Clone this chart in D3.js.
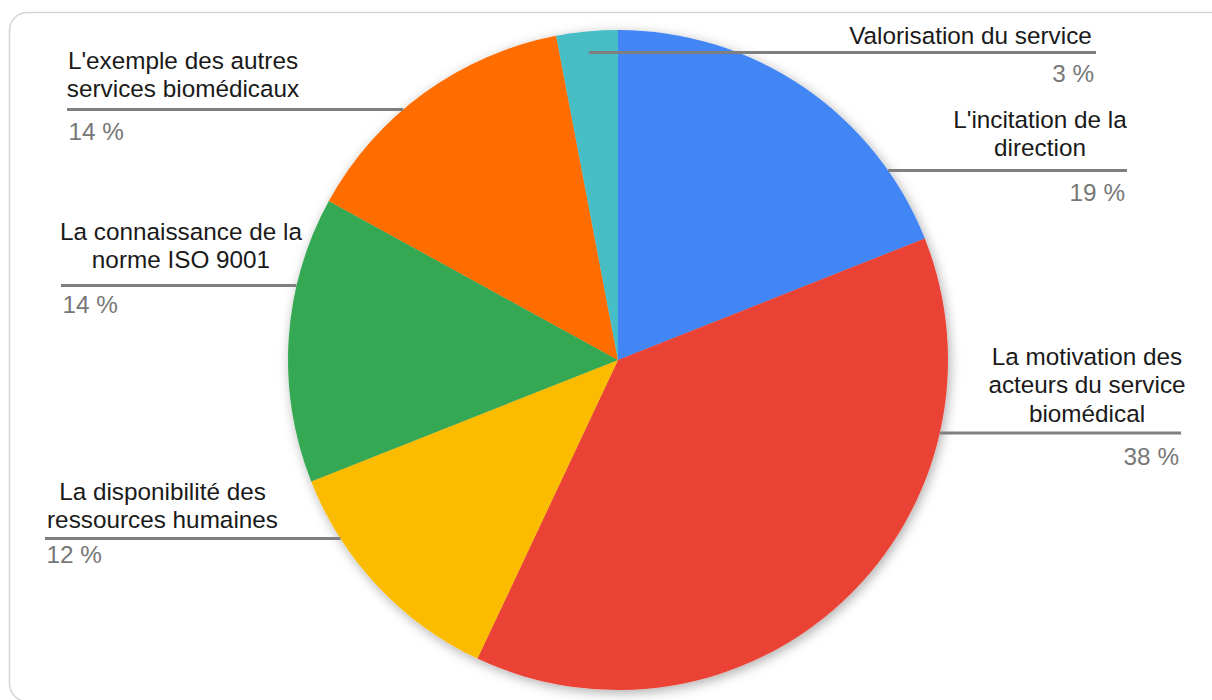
<!DOCTYPE html>
<html>
<head>
<meta charset="utf-8">
<script src="https://cdn.jsdelivr.net/npm/d3@7"></script>
<style>
  html, body { margin: 0; padding: 0; background: #fff; }
  svg { display: block; }
</style>
</head>
<body>
<svg id="chart" width="1212" height="700"></svg>
<script>
// Slice categories, in clockwise order from 12 o'clock
const categories = [
  "L'incitation de la direction",
  "La motivation des acteurs du service biomédical",
  "La disponibilité des ressources humaines",
  "La connaissance de la norme ISO 9001",
  "L'exemple des autres services biomédicaux",
  "Valorisation du service"
];
// Wrapped label lines for each category
const labelLines = [
  ["L'incitation de la", "direction"],
  ["La motivation des", "acteurs du service", "biomédical"],
  ["La disponibilité des", "ressources humaines"],
  ["La connaissance de la", "norme ISO 9001"],
  ["L'exemple des autres", "services biomédicaux"],
  ["Valorisation du service"]
];
// Share of answers, in percent
const shares = [19, 38, 12, 14, 14, 3];
const colors = ["#4285F4", "#EA4335", "#FBBC04", "#34A853", "#FF6D01", "#46BDC6"];

// Label placement: side (+1 right, -1 left), text block centre, first baseline,
// leader line height and its outer end, percentage baseline
const labelLayout = [
  { side:  1, textCx: 1040,  firstY: 128,  lineY: 170.5, lineEnd: 1127, pctY: 201 },
  { side:  1, textCx: 1087,  firstY: 365,  lineY: 433,   lineEnd: 1181, pctY: 465 },
  { side: -1, textCx: 162.5, firstY: 500,  lineY: 538.5, lineEnd: 45,   pctY: 563 },
  { side: -1, textCx: 181,   firstY: 240,  lineY: 285.5, lineEnd: 61,   pctY: 313 },
  { side: -1, textCx: 183,   firstY: 68.5, lineY: 109.5, lineEnd: 67,   pctY: 140 },
  { side:  1, textCx: 970.5, firstY: 43.5, lineY: 52.5,  lineEnd: 1096, pctY: 81.5 }
];

const W = 1212, H = 700;
const cx = 618, cy = 360, R = 330;
const fontFamily = "'Liberation Sans', Arial, Helvetica, sans-serif";
const fontSize = 24.3;
const lineHeight = 28.4;

const svg = d3.select("#chart");

// Card frame
svg.append("rect")
  .attr("x", 9.5).attr("y", 12.5)
  .attr("width", 1260).attr("height", 689)
  .attr("rx", 18).attr("ry", 18)
  .attr("fill", "#fff")
  .attr("stroke", "#d4d4d4")
  .attr("stroke-width", 1.5);

// Soft shadow under the pie
const defs = svg.append("defs");
const f = defs.append("filter").attr("id", "pieShadow")
  .attr("x", "-10%").attr("y", "-10%").attr("width", "120%").attr("height", "120%");
f.append("feDropShadow")
  .attr("dx", 2).attr("dy", 3)
  .attr("stdDeviation", 6)
  .attr("flood-color", "#000")
  .attr("flood-opacity", 0.32);

const pie = d3.pie().sort(null).value(d => d)(shares);
const arc = d3.arc().innerRadius(0).outerRadius(R);
const color = d3.scaleOrdinal().domain(d3.range(shares.length)).range(colors);

const g = svg.append("g").attr("transform", `translate(${cx},${cy})`);
g.append("g").attr("filter", "url(#pieShadow)")
  .selectAll("path")
  .data(pie)
  .join("path")
  .attr("d", arc)
  .attr("fill", (d, i) => color(i));

// Leader line start: circle edge at the line height if it falls in the slice,
// otherwise the point on the slice's middle ray at that height
function lineStart(d, L) {
  const dy = L.lineY - cy;
  const ex = L.side * Math.sqrt(Math.max(0, R * R - dy * dy));
  let a = Math.atan2(ex, -dy);
  if (a < 0) a += 2 * Math.PI;
  if (a >= d.startAngle && a <= d.endAngle) return cx + ex;
  const mid = (d.startAngle + d.endAngle) / 2;
  const r = -dy / Math.cos(mid);
  return cx + r * Math.sin(mid);
}

const pct = d3.format(".0f");
const labels = svg.append("g");

pie.forEach((d, i) => {
  const L = labelLayout[i];
  const x0 = lineStart(d, L);
  labels.append("line")
    .attr("x1", x0).attr("x2", L.lineEnd)
    .attr("y1", L.lineY).attr("y2", L.lineY)
    .attr("stroke", "#7f7f7f")
    .attr("stroke-width", 3);

  const t = labels.append("text")
    .attr("font-family", fontFamily)
    .attr("font-size", fontSize)
    .attr("fill", "#1a1a1a")
    .attr("text-anchor", "middle");
  labelLines[i].forEach((ln, k) => {
    t.append("tspan")
      .attr("x", L.textCx)
      .attr("y", L.firstY + k * lineHeight)
      .text(ln);
  });

  labels.append("text")
    .attr("x", L.side > 0 ? L.lineEnd - 2 : L.lineEnd + 1.5)
    .attr("y", L.pctY)
    .attr("font-family", fontFamily)
    .attr("font-size", fontSize)
    .attr("fill", "#777")
    .attr("text-anchor", L.side > 0 ? "end" : "start")
    .text(pct(d.data) + " %");
});
</script>
</body>
</html>
